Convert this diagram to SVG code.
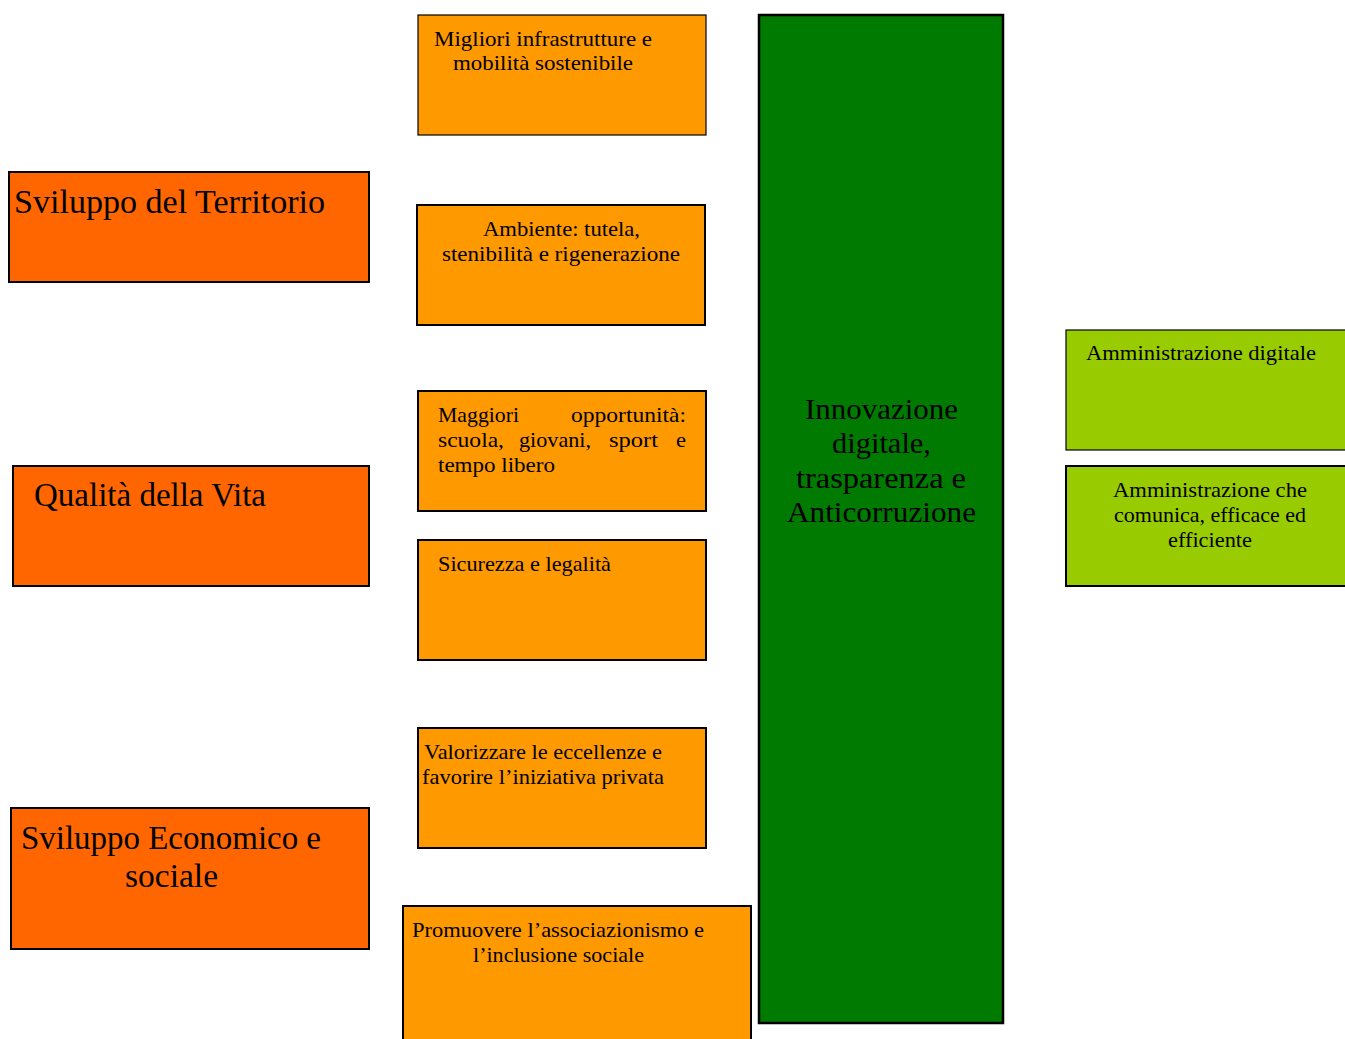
<svg xmlns="http://www.w3.org/2000/svg" width="1345" height="1039" viewBox="0 0 1345 1039">
<style>
text{font-family:"Liberation Serif","DejaVu Serif",serif;fill:#000}
.big{font-size:33px}
.mid{font-size:29px}
.sm{font-size:21px}
.r{fill:#FF6600;stroke:#000;stroke-width:2}
.o{fill:#FF9900;stroke:#000;stroke-width:2}
.g{fill:#007A00;stroke:#000;stroke-width:2.5}
.lg{fill:#99CC00;stroke:#000;stroke-width:2}
.c{text-anchor:middle}
</style>
<rect width="1345" height="1039" fill="#fff"/>
<g id="connectors"></g>
<g id="n-territorio"><rect class="r" x="9" y="172" width="360" height="110"/><text class="big" x="14" y="213" textLength="311" lengthAdjust="spacingAndGlyphs">Sviluppo del Territorio</text></g>
<g id="n-qualita"><rect class="r" x="13" y="466" width="356" height="120"/><text class="big" x="34" y="506" textLength="232" lengthAdjust="spacingAndGlyphs">Qualità della Vita</text></g>
<g id="n-economico"><rect class="r" x="11" y="808" width="358" height="141"/><text class="big" x="21" y="849" textLength="300" lengthAdjust="spacingAndGlyphs">Sviluppo Economico e</text><text class="big" x="125" y="887" textLength="93" lengthAdjust="spacingAndGlyphs">sociale</text></g>
<g id="n-infra"><rect class="o" x="418" y="15" width="288" height="120" style="stroke-width:1.2"/><text class="sm" x="434" y="46" textLength="218" lengthAdjust="spacingAndGlyphs">Migliori infrastrutture e</text><text class="sm" x="453" y="70" textLength="180" lengthAdjust="spacingAndGlyphs">mobilità sostenibile</text></g>
<g id="n-ambiente"><rect class="o" x="417" y="205" width="288" height="120"/><text class="sm" x="483" y="236" textLength="157" lengthAdjust="spacingAndGlyphs">Ambiente: tutela,</text><text class="sm" x="442" y="261" textLength="238" lengthAdjust="spacingAndGlyphs">stenibilità e rigenerazione</text></g>
<g id="n-opportunita"><rect class="o" x="418" y="391" width="288" height="120"/><text class="sm" x="438" y="422" textLength="81" lengthAdjust="spacingAndGlyphs">Maggiori</text><text class="sm" x="571" y="422" textLength="115" lengthAdjust="spacingAndGlyphs">opportunità:</text><text class="sm" x="438" y="447" textLength="66" lengthAdjust="spacingAndGlyphs">scuola,</text><text class="sm" x="519" y="447" textLength="72" lengthAdjust="spacingAndGlyphs">giovani,</text><text class="sm" x="609" y="447" textLength="49" lengthAdjust="spacingAndGlyphs">sport</text><text class="sm" x="676" y="447" textLength="10" lengthAdjust="spacingAndGlyphs">e</text><text class="sm" x="438" y="472" textLength="117" lengthAdjust="spacingAndGlyphs">tempo libero</text></g>
<g id="n-sicurezza"><rect class="o" x="418" y="540" width="288" height="120"/><text class="sm" x="438" y="571" textLength="173" lengthAdjust="spacingAndGlyphs">Sicurezza e legalità</text></g>
<g id="n-eccellenze"><rect class="o" x="418" y="728" width="288" height="120"/><text class="sm" x="424" y="759" textLength="238" lengthAdjust="spacingAndGlyphs">Valorizzare le eccellenze e</text><text class="sm" x="422" y="784" textLength="242" lengthAdjust="spacingAndGlyphs">favorire l’iniziativa privata</text></g>
<g id="n-associazionismo"><rect class="o" x="403" y="906" width="348" height="140"/><text class="sm" x="412" y="937" textLength="292" lengthAdjust="spacingAndGlyphs">Promuovere l’associazionismo e</text><text class="sm" x="473" y="962" textLength="171" lengthAdjust="spacingAndGlyphs">l’inclusione sociale</text></g>
<g id="n-innovazione"><rect class="g" x="759" y="15" width="244" height="1008"/><text class="mid" x="805" y="419" textLength="153" lengthAdjust="spacingAndGlyphs">Innovazione</text><text class="mid" x="832" y="453" textLength="99" lengthAdjust="spacingAndGlyphs">digitale,</text><text class="mid" x="796" y="488" textLength="170" lengthAdjust="spacingAndGlyphs">trasparenza e</text><text class="mid" x="787" y="522" textLength="189" lengthAdjust="spacingAndGlyphs">Anticorruzione</text></g>
<g id="n-digitale"><rect class="lg" x="1066" y="330" width="290" height="120" style="stroke-width:1.2"/><text class="sm" x="1086" y="360" textLength="230" lengthAdjust="spacingAndGlyphs">Amministrazione digitale</text></g>
<g id="n-comunica"><rect class="lg" x="1066" y="466" width="290" height="120"/><text class="sm" x="1113" y="497" textLength="194" lengthAdjust="spacingAndGlyphs">Amministrazione che</text><text class="sm" x="1114" y="522" textLength="192" lengthAdjust="spacingAndGlyphs">comunica, efficace ed</text><text class="sm" x="1168" y="547" textLength="84" lengthAdjust="spacingAndGlyphs">efficiente</text></g>
</svg>
